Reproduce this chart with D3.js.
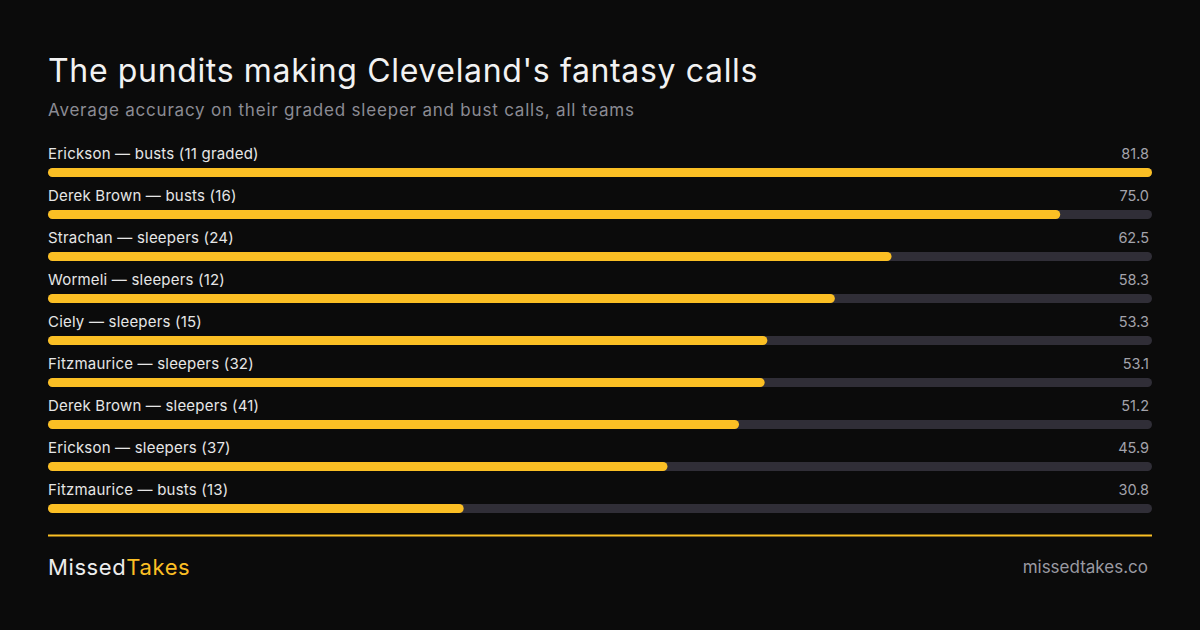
<!DOCTYPE html>
<html>
<head>
<meta charset="utf-8">
<script src="https://cdn.jsdelivr.net/npm/d3@7"></script>
<style>
  html, body { margin: 0; padding: 0; background: #0b0b0b; }
  svg { display: block; font-family: Inter, "Noto Sans", sans-serif; }
</style>
</head>
<body>
<div id="chart"></div>
<script>
// data
const pundits = ['Erickson', 'Derek Brown', 'Strachan', 'Wormeli', 'Ciely', 'Fitzmaurice', 'Derek Brown', 'Erickson', 'Fitzmaurice'];
const callTypes = ['busts', 'busts', 'sleepers', 'sleepers', 'sleepers', 'sleepers', 'sleepers', 'sleepers', 'busts'];
const graded = [11, 16, 24, 12, 15, 32, 41, 37, 13];
const accuracy = [81.8, 75.0, 62.5, 58.3, 53.3, 53.1, 51.2, 45.9, 30.8];

const width = 1200, height = 630;
const margin = {left: 48, right: 48};

const svg = d3.select('#chart').append('svg')
    .attr('width', width)
    .attr('height', height);

svg.append('rect')
    .attr('width', width)
    .attr('height', height)
    .attr('fill', '#0b0b0b');

// heading
svg.append('text')
    .attr('x', 48).attr('y', 82)
    .attr('fill', '#f2f2f2')
    .attr('font-size', 32)
    .attr('letter-spacing', 0.65)
    .text("The pundits making Cleveland's fantasy calls");

svg.append('text')
    .attr('x', 48).attr('y', 116)
    .attr('fill', '#8b8b94')
    .attr('font-size', 17)
    .attr('letter-spacing', 0.8)
    .text('Average accuracy on their graded sleeper and bust calls, all teams');

const rows = accuracy.map((v, i) => ({
    label: pundits[i] + ' \u2014 ' + callTypes[i] + ' (' + graded[i] + (i === 0 ? ' graded' : '') + ')',
    value: v
}));

const xScale = d3.scaleLinear()
    .domain([0, d3.max(accuracy)])
    .range([margin.left, width - margin.right]);

const yScale = d3.scaleBand()
    .domain(d3.range(rows.length))
    .range([140, 140 + 42 * rows.length]);

const barH = 9;

const row = svg.selectAll('g.row')
    .data(rows)
    .join('g')
    .attr('class', 'row')
    .attr('transform', (d, i) => 'translate(0,' + yScale(i) + ')');

row.append('text')
    .attr('x', margin.left)
    .attr('y', 19)
    .attr('fill', '#e6e6e6')
    .attr('font-size', 15)
    .attr('letter-spacing', 0.2)
    .text(d => d.label);

row.append('text')
    .attr('x', width - margin.right - 3)
    .attr('y', 19)
    .attr('text-anchor', 'end')
    .attr('fill', '#a3a3ab')
    .attr('font-size', 14.5)
    .text(d => d.value.toFixed(1));

row.append('rect')
    .attr('x', xScale(0))
    .attr('y', 28)
    .attr('width', xScale(d3.max(accuracy)) - xScale(0))
    .attr('height', barH)
    .attr('rx', barH / 2)
    .attr('fill', '#302e37');

row.append('rect')
    .attr('x', xScale(0))
    .attr('y', 28)
    .attr('width', d => xScale(d.value) - xScale(0))
    .attr('height', barH)
    .attr('rx', barH / 2)
    .attr('fill', '#fbbf24');

// footer
svg.append('line')
    .attr('x1', margin.left).attr('x2', width - margin.right)
    .attr('y1', 535.5).attr('y2', 535.5)
    .attr('stroke', '#fbbf24')
    .attr('stroke-width', 2);

const brand = svg.append('text')
    .attr('x', 48).attr('y', 575)
    .attr('font-size', 22)
    .attr('letter-spacing', 0.6);
brand.append('tspan').attr('fill', '#ededed').text('Missed');
brand.append('tspan').attr('fill', '#fbbf24').text('Takes');

svg.append('text')
    .attr('x', width - margin.right - 4).attr('y', 573)
    .attr('text-anchor', 'end')
    .attr('fill', '#9a9aa2')
    .attr('font-size', 17)
    .text('missedtakes.co');
</script>
</body>
</html>
